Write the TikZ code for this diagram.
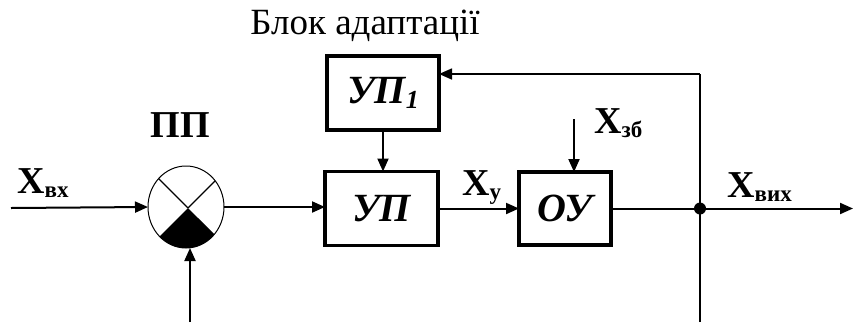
\documentclass[tikz,border=0pt]{standalone}
\usepackage{fontspec}
\setmainfont{Liberation Serif}
\usetikzlibrary{arrows.meta,shapes.geometric}
\newcommand\sbx[1]{\raisebox{-4pt}{\fontsize{23}{23}\selectfont #1}}
\begin{document}
\begin{tikzpicture}[x=1pt,y=-1pt,
  blk/.style={draw,line width=3.5pt,inner sep=0pt,outer sep=0pt,font=\fontsize{40}{40}\selectfont\bfseries\itshape},
  arr/.style={line width=2pt,-{Triangle[length=13pt,width=11pt]}},
  thinarr/.style={line width=1.6pt,-{Triangle[length=13pt,width=11pt]}},
  lbl/.style={inner sep=0pt,font=\fontsize{38}{38}\selectfont\bfseries},
  sum/.style={draw,ellipse,line width=1pt,inner sep=0pt,outer sep=0pt,minimum width=76pt,minimum height=82pt}]
\useasboundingbox (0,0) rectangle (854,322);
% title
\node[inner sep=0pt,font=\fontsize{37}{37}\selectfont] (title) at (365,26) {Блок адаптації};
% blocks
\node[blk,minimum width=113pt,minimum height=74pt] (up) at (381.5,208.5) {УП};
\node[blk,minimum width=112pt,minimum height=74pt] (up1) at (383,93) {УП\raisebox{-5pt}{\fontsize{26}{26}\selectfont 1}};
\node[blk,minimum width=92pt,minimum height=73pt] (ou) at (565,208.5) {ОУ};
% summing element
\coordinate (Sc) at (186,207);
\coordinate (X) at (188,208);
\begin{scope}
  \clip (Sc) ellipse [x radius=38pt, y radius=41pt];
  \fill (X) -- ++(-135:90pt) -- ++(0:127.3pt) -- cycle;
  \draw[line width=1.2pt] (X) -- ++(135:80pt);
  \draw[line width=1.2pt] (X) -- ++(45:80pt);
\end{scope}
\node[sum] (S) at (Sc) {};
% labels
\node[lbl] (pp) at (180,125) {ПП};
\node[lbl,anchor=base west] (xin) at (17,193) {X\sbx{вх}};
\node[lbl,anchor=base west] (xy) at (462,195) {X\sbx{у}};
\node[lbl,anchor=base west] (xzb) at (594,133) {X\sbx{зб}};
\node[lbl,anchor=base west] (xout) at (727,197) {X\sbx{вих}};
% coordinates
\coordinate (in) at (11,208);
\coordinate (bot) at (190,322);
\coordinate (zb) at (574,119);
\coordinate (j) at (700,208.5);
\coordinate (out) at (853,208.5);
\coordinate (fb) at (700,74);
\coordinate (fbb) at (700,322);
% connectors
\draw[arr] (in) -- (S.west);
\draw[arr] (bot) -- (bot |- S.south);
\draw[arr] (S.east) -- (S.east -| up.west);
\draw[arr] (up1.south) -- (up1.south |- up.north);
\draw[arr] (up.east) -- (ou.west);
\draw[arr] (zb) -- (zb |- ou.north);
\draw[arr] (ou.east) -- (out);
\draw[line width=1.6pt] (fbb) -- (fb);
\draw[thinarr] (fb) -- (fb -| up1.east);
\fill (j) circle[radius=6pt];
\end{tikzpicture}
\end{document}
